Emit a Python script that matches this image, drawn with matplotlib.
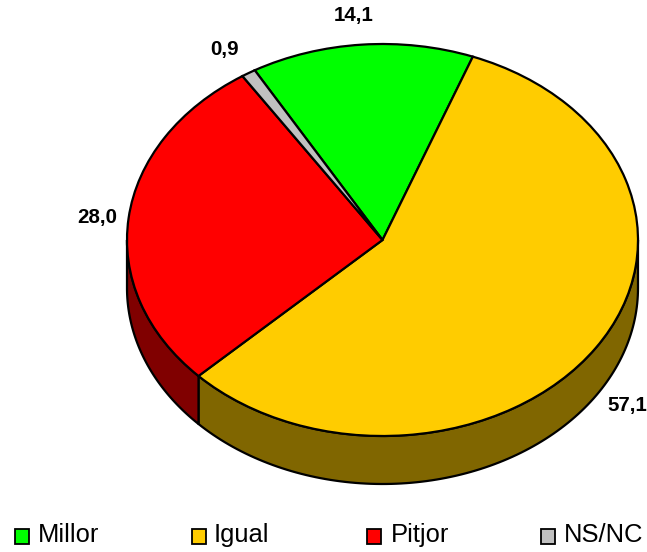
import numpy as np
import matplotlib
matplotlib.use('Agg')
import matplotlib.pyplot as plt
from matplotlib.patches import Rectangle

plt.rcParams['font.family'] = ['Liberation Sans', 'DejaVu Sans']

categories = ["Millor", "Igual", "Pitjor", "NS/NC"]
values = [14.1, 57.1, 28.0, 0.9]
value_labels = ["14,1", "57,1", "28,0", "0,9"]
top_colors = ["#00ff00", "#ffcc00", "#ff0000", "#c0c0c0"]
side_colors = ["#008000", "#806600", "#800000", "#606060"]

W, H = 647, 552
CX, CY = 382.5, 240      # centre of the top face, pixels
RX, RY = 255.5, 196      # radii of the top face, pixels
DEPTH = 48 / RY          # wall height in data units
START = 120
LW = 1.6

fig = plt.figure(figsize=(W / 100, H / 100), dpi=100)
ax = fig.add_axes([0, 0, 1, 1])

wedges, _ = ax.pie(values, colors=top_colors, startangle=START, counterclock=False,
                   radius=1, wedgeprops={'edgecolor': 'black', 'linewidth': LW})
for w in wedges:
    w.set_zorder(3)

# squash the unit circle into the tilted ellipse through the axis limits
ax.set_aspect('auto')
ax.set_xlim(-CX / RX, (W - CX) / RX)
ax.set_ylim(-(H - CY) / RY, CY / RY)
ax.axis('off')

# side wall, only the part of each slice on the front half
angle = START
for val, col in zip(values, side_colors):
    a0, a1 = angle - val / sum(values) * 360, angle
    angle = a0
    lo, hi = max(a0, -180), min(a1, 0)
    if hi <= lo:
        continue
    t = np.radians(np.linspace(lo, hi, 120))
    xs = np.cos(t)
    ys = np.sin(t)
    ax.fill(np.r_[xs, xs[::-1]], np.r_[ys, ys[::-1] - DEPTH], facecolor=col,
            edgecolor='black', linewidth=LW, zorder=2, joinstyle='round')


def px_text(x, y, s, **kw):
    fig.text(x / W, 1 - y / H, s, **kw)


# value labels
label_pos = [(354, 16), (627, 406), (97, 218), (225, 49)]
for (x, y), s in zip(label_pos, value_labels):
    px_text(x, y, s, ha='center', va='center', fontsize=14.8, fontweight='bold')

# legend
box_x = [15, 192, 367, 541]
text_x = [38, 214, 391, 564]
for bx, tx, name, col in zip(box_x, text_x, categories, top_colors):
    fig.add_artist(Rectangle((bx / W, 1 - 544 / H), 14 / W, 15 / H, transform=fig.transFigure,
                             facecolor=col, edgecolor='black', linewidth=1.3))
    px_text(tx, 542, name, ha='left', va='baseline', fontsize=18.4)

fig.savefig('out.png', dpi=100)
